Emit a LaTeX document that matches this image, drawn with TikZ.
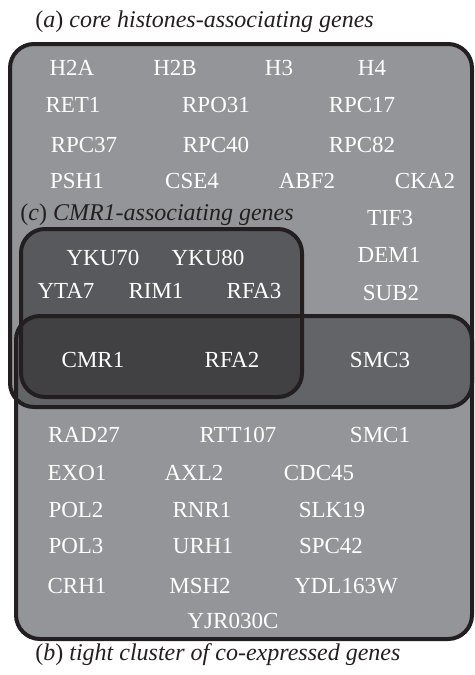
\documentclass[tikz,border=0pt]{standalone}
\usepackage{xcolor}
\usepackage{fontspec}
\setmainfont{Liberation Serif}
\usepackage{tikz}
\usetikzlibrary{positioning}

\definecolor{paleset}{HTML}{939598}
\definecolor{abset}{HTML}{636468}
\definecolor{cset}{HTML}{58595C}
\definecolor{abcset}{HTML}{414143}
\definecolor{rimcol}{HTML}{231F20}

\begin{document}
\begin{tikzpicture}[
  x=0.5pt, y=-0.5pt,
  gene/.style={text=white, anchor=base, inner sep=0pt,
               font=\fontsize{11.5}{13}\selectfont},
  setcaption/.style={text=rimcol, anchor=base west, inner sep=0pt,
              font=\fontsize{12}{14}\selectfont},
  rim/.style={draw=rimcol, line width=2pt, rounded corners=12pt},
  roundbox/.style={rounded corners=12pt}
]
  \useasboundingbox (0,0) rectangle (475,675);

  % corners of the three sets
  \coordinate (anw) at (10,44);  \coordinate (ase) at (472,407);
  \coordinate (bnw) at (16,316); \coordinate (bse) at (472,639);
  \coordinate (cnw) at (21,229); \coordinate (cse) at (302,397);

  % shading of the sets and overlaps
  \fill[paleset, roundbox] (anw) rectangle (ase);
  \fill[paleset, roundbox] (bnw) rectangle (bse);
  \begin{scope}
    \clip[roundbox] (anw) rectangle (ase);
    \fill[abset, roundbox] (bnw) rectangle (bse);
  \end{scope}
  \fill[cset, roundbox] (cnw) rectangle (cse);
  \begin{scope}
    \clip[roundbox] (bnw) rectangle (bse);
    \fill[abcset, roundbox] (cnw) rectangle (cse);
  \end{scope}

  \draw[rim] (anw) rectangle (ase);
  \draw[rim] (cnw) rectangle (cse);
  \draw[rim] (bnw) rectangle (bse);

  % captions
  \node[setcaption] (capa) at (35,27) {(\textit{a}) \textit{core histones-associating genes}};
  \node[setcaption] (capc) at (20,220) {(\textit{c}) \textit{CMR1-associating genes}};
  \node[setcaption] (capb) at (35,660) {(\textit{b}) \textit{tight cluster of co-expressed genes}};

  % core histones-associating genes
  \node[gene] (h2a) at (72,75) {H2A};
  \node[gene] (h2b) at (175,75) {H2B};
  \node[gene] (h3) at (279,75) {H3};
  \node[gene] (h4) at (372,75) {H4};
  \node[gene] (ret1) at (73,112) {RET1};
  \node[gene] (rpo31) at (216,112) {RPO31};
  \node[gene] (rpc17) at (362,112) {RPC17};
  \node[gene] (rpc37) at (84,152) {RPC37};
  \node[gene] (rpc40) at (216,152) {RPC40};
  \node[gene] (rpc82) at (362,152) {RPC82};
  \node[gene] (psh1) at (77,188) {PSH1};
  \node[gene] (cse4) at (192,188) {CSE4};
  \node[gene] (abf2) at (307,188) {ABF2};
  \node[gene] (cka2) at (425,188) {CKA2};
  \node[gene] (tif3) at (390,225) {TIF3};
  \node[gene] (dem1) at (389,262) {DEM1};
  \node[gene] (sub2) at (391,300) {SUB2};

  % CMR1-associating genes
  \node[gene] (yku70) at (103,265) {YKU70};
  \node[gene] (yku80) at (208,265) {YKU80};
  \node[gene] (yta7) at (66,298) {YTA7};
  \node[gene] (rim1) at (156,298) {RIM1};
  \node[gene] (rfa3) at (254,298) {RFA3};

  % overlaps
  \node[gene] (cmr1) at (93,367) {CMR1};
  \node[gene] (rfa2) at (232,367) {RFA2};
  \node[gene] (smc3) at (380,367) {SMC3};

  % tight cluster of co-expressed genes
  \node[gene] (rad27) at (84,442) {RAD27};
  \node[gene] (rtt107) at (238,442) {RTT107};
  \node[gene] (smc1) at (380,442) {SMC1};
  \node[gene] (exo1) at (77,480) {EXO1};
  \node[gene] (axl2) at (194,480) {AXL2};
  \node[gene] (cdc45) at (319,480) {CDC45};
  \node[gene] (pol2) at (76,517) {POL2};
  \node[gene] (rnr1) at (202,517) {RNR1};
  \node[gene] (slk19) at (332,517) {SLK19};
  \node[gene] (pol3) at (76,553) {POL3};
  \node[gene] (urh1) at (203,553) {URH1};
  \node[gene] (spc42) at (331,553) {SPC42};
  \node[gene] (crh1) at (77,593) {CRH1};
  \node[gene] (msh2) at (200,593) {MSH2};
  \node[gene] (ydl163w) at (346,593) {YDL163W};
  \node[gene] (yjr030c) at (233,628) {YJR030C};
\end{tikzpicture}
\end{document}
